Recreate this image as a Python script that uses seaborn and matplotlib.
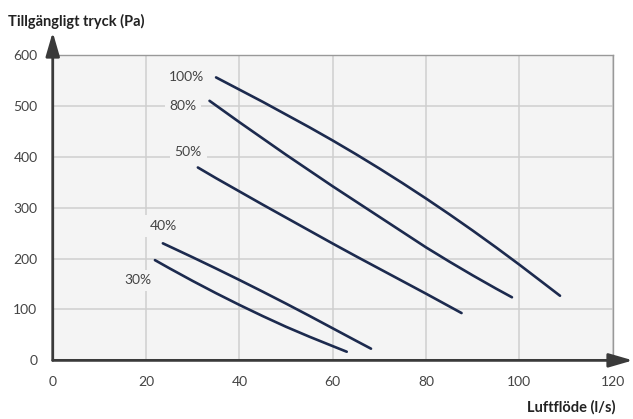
import pandas as pd
import numpy as np
import matplotlib.pyplot as plt
import seaborn as sns

# =========================
# DATA (läst ur diagrammet)
# =========================
x_100 = [35.0, 40, 45, 50, 55, 60, 65, 70, 75, 80, 85, 90, 95, 100, 105, 108.7]
y_100 = [556, 532, 508, 483, 458, 432, 405, 377, 348, 318, 287, 255, 222, 188, 153, 127]

x_80 = [33.6, 40, 45, 50, 55, 60, 65, 70, 75, 80, 85, 90, 95, 98.4]
y_80 = [510, 468, 436, 404, 373, 342, 312, 282, 252, 222, 194, 167, 141, 124]

x_50 = [31.1, 35, 40, 45, 50, 55, 60, 65, 70, 75, 80, 85, 87.6]
y_50 = [379, 358, 332, 306, 280.5, 255, 229.5, 204.5, 180, 155.5, 131, 106, 93]

x_40 = [23.6, 25, 30, 35, 40, 45, 50, 55, 60, 65, 68.2]
y_40 = [230, 224, 202.5, 180.5, 158, 135, 111.5, 87.5, 63, 38.5, 23]

x_30 = [21.9, 25, 30, 35, 40, 45, 50, 55, 60, 63.0]
y_30 = [197, 181, 156, 132, 109, 87, 66, 46.5, 28, 17]

serier = ["100%", "80%", "50%", "40%", "30%"]
# etikettpositioner (x, y) i dataenheter
etikett_x = [28.6, 27.9, 29.0, 23.7, 18.2]
etikett_y = [556, 500, 409, 264, 157]

x_ticks = [0, 20, 40, 60, 80, 100, 120]
y_ticks = [0, 100, 200, 300, 400, 500, 600]

XLABEL = "Luftflöde (l/s)"
YLABEL = "Tillgängligt tryck (Pa)"

# =========================
# LÅNG TABELL FÖR SEABORN
# =========================
frames = []
for namn, xs, ys in zip(serier, [x_100, x_80, x_50, x_40, x_30],
                        [y_100, y_80, y_50, y_40, y_30]):
    frames.append(pd.DataFrame({"flode": xs, "tryck": ys, "serie": namn}))
df = pd.concat(frames, ignore_index=True)

# =========================
# STIL
# =========================
sns.set_style("white")
plt.rcParams["font.family"] = ["Lato", "DejaVu Sans"]

LINJE = "#1c2a4e"
BG = "#f4f4f4"
GRID = "#cfcfcf"
TEXT = "#444444"
AXEL = "#3a3a3a"

fig = plt.figure(figsize=(6.33, 4.19), dpi=100)
ax = fig.add_axes([0.0833, 0.1399, 0.8847, 0.7288])
ax.set_facecolor(BG)

sns.lineplot(data=df, x="flode", y="tryck", hue="serie", units="serie",
             estimator=None, sort=False, palette=[LINJE] * len(serier),
             linewidth=1.9, legend=False, ax=ax, zorder=3)
for ln in ax.lines:
    ln.set_solid_joinstyle("round")

ax.set_xlim(0, 120)
ax.set_ylim(0, 600)
ax.set_xticks(x_ticks)
ax.set_yticks(y_ticks)
ax.grid(True, color=GRID, linewidth=1.1, zorder=0)
ax.set_axisbelow(True)

ax.tick_params(axis="both", length=7, width=1.1, color=GRID,
               labelcolor=TEXT, labelsize=10, pad=4)
ax.set_xlabel("")
ax.set_ylabel("")

for s in ["top", "right"]:
    ax.spines[s].set_color("#999999")
    ax.spines[s].set_linewidth(1.0)
for s in ["left", "bottom"]:
    ax.spines[s].set_visible(False)

# axelpilar
pil = dict(arrowstyle="-|>,head_length=1.45,head_width=0.42", color=AXEL,
           lw=2.0, shrinkA=0, shrinkB=0, mutation_scale=10)
ax.annotate("", xy=(0, 1.075), xytext=(0, 0), xycoords="axes fraction",
            textcoords="axes fraction", arrowprops=pil, annotation_clip=False, zorder=5)
ax.annotate("", xy=(1.036, 0), xytext=(0, 0), xycoords="axes fraction",
            textcoords="axes fraction", arrowprops=pil, annotation_clip=False, zorder=5)

# serieetiketter
for namn, ex, ey in zip(serier, etikett_x, etikett_y):
    ax.text(ex, ey, namn, ha="center", va="center", fontsize=10, color=TEXT,
            zorder=4, bbox=dict(boxstyle="square,pad=0.35", fc=BG, ec="none"))

fig.text(0.013, 0.948, YLABEL, ha="left", va="center", fontsize=10.5,
         fontweight="bold", color="#222222")
fig.text(0.972, 0.027, XLABEL, ha="right", va="center", fontsize=10.5,
         fontweight="bold", color="#222222")

plt.savefig("out.png", dpi=100)
plt.close()
